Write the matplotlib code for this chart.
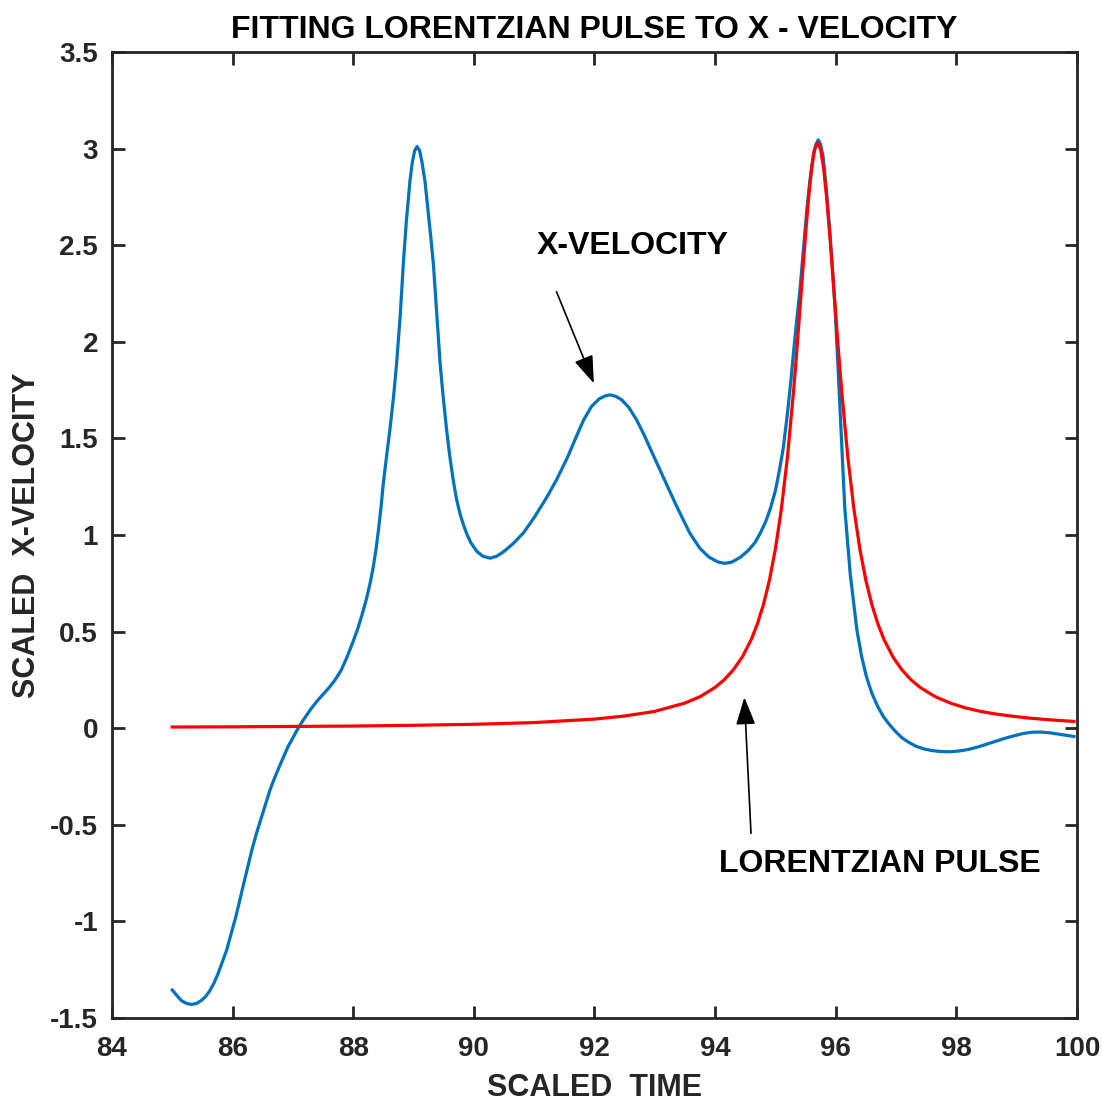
import matplotlib.pyplot as plt

plt.rcParams['font.family'] = ['Liberation Sans', 'DejaVu Sans']
plt.rcParams['axes.unicode_minus'] = False

# x-velocity
vel_t = [85.0, 85.08, 85.15, 85.24, 85.32, 85.40, 85.48, 85.55, 85.62, 85.69,
         85.76, 85.83, 85.90, 85.97, 86.05, 86.12, 86.18, 86.25, 86.32, 86.40,
         86.48, 86.55, 86.62, 86.70, 86.78, 86.85, 86.92, 87.0, 87.06, 87.12,
         87.2, 87.3, 87.4, 87.5, 87.6, 87.7, 87.8, 87.9, 88.0, 88.07,
         88.14, 88.22, 88.28, 88.33, 88.38, 88.42, 88.46, 88.50, 88.55, 88.61,
         88.67, 88.72, 88.78, 88.83, 88.88, 88.94, 88.98, 89.02, 89.06, 89.10,
         89.14, 89.19, 89.24, 89.29, 89.33, 89.38, 89.44, 89.49, 89.55, 89.60,
         89.66, 89.71, 89.77, 89.83, 89.89, 89.95, 90.05, 90.15, 90.27, 90.38,
         90.50, 90.65, 90.82, 91.0, 91.2, 91.37, 91.55, 91.7, 91.82, 91.95,
         92.08, 92.18, 92.26, 92.35, 92.45, 92.57, 92.70, 92.82, 92.95, 93.14,
         93.36, 93.58, 93.75, 93.9, 94.05, 94.16, 94.28, 94.42, 94.55, 94.66,
         94.75, 94.84, 94.92, 95.0, 95.07, 95.13, 95.2, 95.26, 95.32, 95.41,
         95.47, 95.52, 95.57, 95.63, 95.67, 95.71, 95.75, 95.79, 95.84, 95.90,
         95.95, 95.99, 96.03, 96.07, 96.11, 96.15, 96.20, 96.24, 96.30, 96.35,
         96.43, 96.51, 96.60, 96.70, 96.79, 96.9, 97.0, 97.1, 97.22, 97.34,
         97.47, 97.6, 97.75, 97.9, 98.05, 98.2, 98.35, 98.5, 98.65, 98.8,
         98.95, 99.1, 99.25, 99.4, 99.55, 99.7, 99.85, 99.95]
vel_v = [-1.355, -1.385, -1.41, -1.425, -1.43, -1.425, -1.41, -1.39, -1.36, -1.32,
         -1.27, -1.21, -1.15, -1.07, -0.98, -0.89, -0.81, -0.72, -0.63, -0.54,
         -0.46, -0.39, -0.32, -0.255, -0.195, -0.145, -0.095, -0.05, -0.015, 0.017,
         0.055, 0.10, 0.14, 0.175, 0.21, 0.25, 0.30, 0.37, 0.45, 0.51,
         0.58, 0.67, 0.75, 0.83, 0.93, 1.03, 1.14, 1.27, 1.40, 1.55,
         1.72, 1.89, 2.14, 2.40, 2.62, 2.83, 2.93, 2.99, 3.01, 2.99,
         2.93, 2.83, 2.68, 2.53, 2.40, 2.17, 1.89, 1.72, 1.54, 1.41,
         1.28, 1.19, 1.11, 1.05, 1.00, 0.96, 0.915, 0.89, 0.88, 0.89,
         0.915, 0.955, 1.01, 1.09, 1.19, 1.285, 1.40, 1.51, 1.595, 1.665,
         1.705, 1.72, 1.725, 1.718, 1.70, 1.66, 1.595, 1.52, 1.43, 1.30,
         1.15, 1.01, 0.93, 0.885, 0.86, 0.853, 0.86, 0.885, 0.92, 0.96,
         1.01, 1.07, 1.14, 1.23, 1.34, 1.45, 1.63, 1.81, 2.01, 2.28,
         2.50, 2.68, 2.83, 2.97, 3.02, 3.045, 3.02, 2.96, 2.80, 2.58,
         2.36, 2.165, 1.92, 1.66, 1.39, 1.14, 0.95, 0.80, 0.64, 0.51,
         0.37, 0.265, 0.18, 0.11, 0.06, 0.015, -0.02, -0.05, -0.075, -0.095,
         -0.108, -0.116, -0.121, -0.122, -0.118, -0.11, -0.098, -0.083, -0.068, -0.053,
         -0.04, -0.028, -0.021, -0.02, -0.024, -0.031, -0.038, -0.043]

# fitted lorentzian pulse
lor_t = [85.0, 86.0, 87.0, 88.0, 89.0, 90.0, 91.0, 92.0, 92.5, 93.0,
         93.5, 93.75, 94.0, 94.15, 94.3, 94.45, 94.6, 94.7, 94.8, 94.9,
         95.0, 95.1, 95.2, 95.3, 95.35, 95.45, 95.5, 95.55, 95.6, 95.65,
         95.7, 95.75, 95.8, 95.85, 95.9, 95.95, 96.05, 96.1, 96.2, 96.3,
         96.4, 96.5, 96.6, 96.7, 96.8, 96.95, 97.1, 97.25, 97.4, 97.65,
         97.9, 98.15, 98.4, 98.65, 98.9, 99.15, 99.4, 99.7, 99.95]
lor_v = [0.006, 0.007, 0.009, 0.011, 0.015, 0.020, 0.029, 0.047, 0.063, 0.087,
         0.130, 0.163, 0.211, 0.250, 0.301, 0.368, 0.459, 0.539, 0.638, 0.765,
         0.928, 1.137, 1.405, 1.741, 1.934, 2.351, 2.557, 2.745, 2.896, 2.995,
         3.03, 2.995, 2.896, 2.745, 2.557, 2.351, 1.934, 1.741, 1.405, 1.137,
         0.928, 0.765, 0.638, 0.539, 0.459, 0.368, 0.301, 0.250, 0.211, 0.163,
         0.130, 0.105, 0.087, 0.0735, 0.063, 0.054, 0.047, 0.040, 0.035]

x_ticks = [84, 86, 88, 90, 92, 94, 96, 98, 100]
y_ticks = [-1.5, -1, -0.5, 0, 0.5, 1, 1.5, 2, 2.5, 3, 3.5]
y_tick_labels = ['-1.5', '-1', '-0.5', '0', '0.5', '1', '1.5', '2', '2.5', '3', '3.5']

fig = plt.figure(figsize=(11.02, 11.01), dpi=100)
ax = fig.add_axes([0.1016, 0.0754, 0.8757, 0.8774])

ax.plot(vel_t, vel_v, color='#0072BD', lw=2.3)
ax.plot(lor_t, lor_v, color='#FF0000', lw=2.3)

ax.set_xlim(84, 100)
ax.set_ylim(-1.5, 3.5)
ax.set_xticks(x_ticks)
ax.set_yticks(y_ticks)
ax.set_yticklabels(y_tick_labels)
ax.tick_params(direction='in', length=9, width=2, top=True, right=True,
               labelsize=20, colors='#262626', pad=10)
ax.tick_params(axis='x', pad=13)
for lbl in ax.get_xticklabels() + ax.get_yticklabels():
    lbl.set_fontweight('bold')
for sp in ax.spines.values():
    sp.set_linewidth(2)
    sp.set_color('#262626')

ax.set_title('FITTING LORENTZIAN PULSE TO X - VELOCITY', fontsize=23,
             fontweight='bold', pad=10)
ax.set_xlabel('SCALED  TIME', fontsize=22, fontweight='bold', color='#262626',
              labelpad=8)
ax.set_ylabel('SCALED  X-VELOCITY', fontsize=22, fontweight='bold',
              color='#262626', labelpad=6)

ax.text(92.64, 2.496, 'X-VELOCITY', fontsize=23, fontweight='bold',
        ha='center', va='center')
ax.text(96.73, -0.703, 'LORENTZIAN PULSE', fontsize=23, fontweight='bold',
        ha='center', va='center')

arrow = dict(arrowstyle='-|>,head_length=0.85,head_width=0.3', color='black',
             lw=1.2, mutation_scale=20, shrinkA=0, shrinkB=0)
ax.annotate('', xy=(91.99, 1.785), xytext=(91.37, 2.259), arrowprops=arrow)
ax.annotate('', xy=(94.485, 0.16), xytext=(94.595, -0.544), arrowprops=arrow)

fig.savefig('out.png', dpi=100)
